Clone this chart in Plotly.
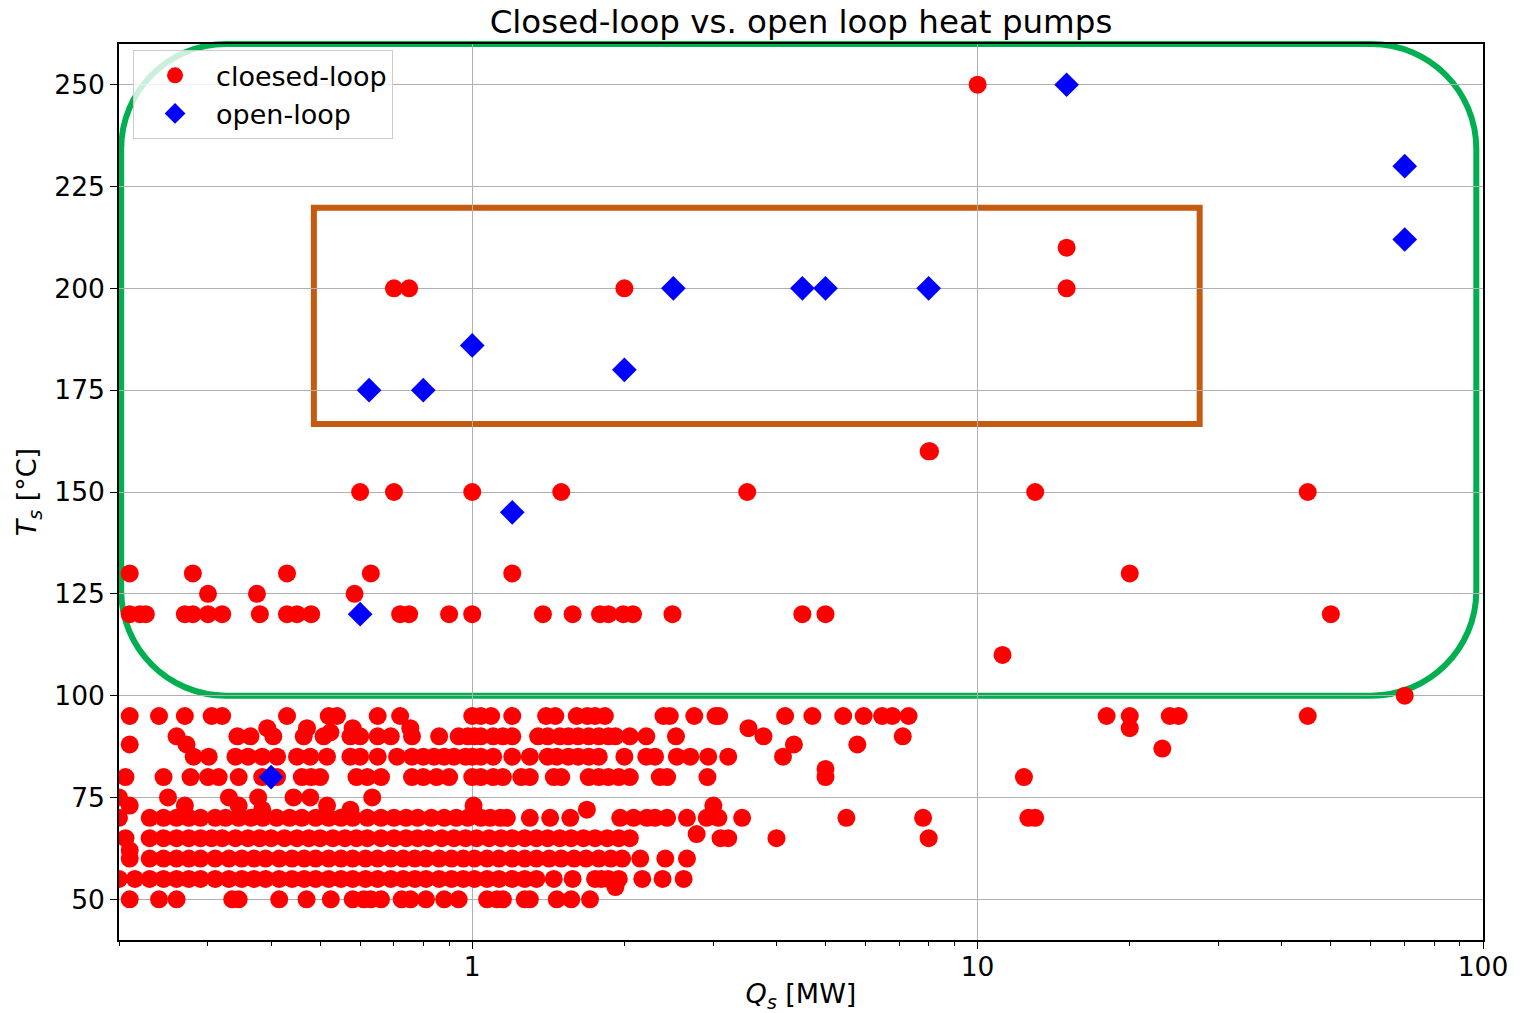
import math
import plotly.graph_objects as go

# ---------------- data: closed-loop (Q_s in MW per temperature level in °C) ----------------
closed_q_250 = [10.0]
closed_q_210 = [15.0]
closed_q_200 = [0.70, 0.75, 2.0, 15.0]
closed_q_160 = [8.0, 8.05]
closed_q_150 = [0.6, 0.7, 1.0, 1.5, 3.5, 13.0, 45.0]
closed_q_130 = [0.21, 0.28, 0.43, 0.63, 1.2, 20.0]
closed_q_125 = [0.30, 0.375, 0.585]
closed_q_120 = [0.21, 0.22, 0.226, 0.27, 0.28, 0.30, 0.32, 0.38, 0.43, 0.45, 0.48, 0.72,
                0.75, 0.90, 1.0, 1.38, 1.58, 1.79, 1.86, 1.99, 2.08, 2.49, 4.5, 5.0, 50.0]
closed_q_110 = [11.2]
closed_q_100 = [70.0]
closed_q_95 = [0.21, 0.24, 0.27, 0.305, 0.32, 0.43, 0.52, 0.54, 0.65, 0.72, 1.0, 1.04, 1.09,
               1.2, 1.4, 1.46, 1.61, 1.69, 1.75, 1.83, 2.39, 2.46, 2.75, 3.03, 3.08, 4.16,
               4.71, 5.42, 5.95, 6.47, 6.78, 7.3, 18.0, 20.0, 24.0, 25.0, 45.0]
closed_q_92 = [0.393, 0.471, 0.58, 0.754, 3.52, 20.0]
closed_q_91 = [0.524]
closed_q_90 = [0.26, 0.343, 0.364, 0.404, 0.464, 0.508, 0.574, 0.60, 0.65, 0.69, 0.76, 0.86,
               0.94, 0.98, 1.01, 1.04, 1.1, 1.15, 1.2, 1.35, 1.41, 1.49, 1.55, 1.62, 1.7,
               1.78, 1.86, 1.92, 2.05, 2.21, 2.53, 3.77, 7.11]
closed_q_88 = [0.21, 0.272, 4.33, 5.78]
closed_q_87 = [23.2]
closed_q_85 = [0.281, 0.301, 0.34, 0.36, 0.384, 0.411, 0.45, 0.478, 0.516, 0.574, 0.6, 0.65,
               0.71, 0.76, 0.8, 0.84, 0.88, 0.92, 0.97, 1.0, 1.04, 1.1, 1.2, 1.3, 1.41, 1.47,
               1.55, 1.62, 1.7, 1.78, 2.0, 2.21, 2.3, 2.54, 2.7, 2.93, 3.21, 4.12]
closed_q_82 = [5.0]
closed_q_80 = [0.206, 0.245, 0.277, 0.30, 0.315, 0.345, 0.384, 0.411, 0.46, 0.48, 0.50, 0.59,
               0.62, 0.66, 0.76, 0.8, 0.85, 0.9, 1.0, 1.04, 1.1, 1.15, 1.25, 1.3, 1.45, 1.5,
               1.7, 1.78, 1.86, 1.95, 2.05, 2.35, 2.43, 2.92, 5.0, 12.35]
closed_q_75 = [0.2, 0.25, 0.33, 0.377, 0.443, 0.478, 0.634]
closed_q_73 = [0.21, 0.27, 0.345, 0.516, 1.006, 3.0]
closed_q_72 = [0.384, 0.574, 1.686]
closed_q_70 = [0.2, 0.23, 0.245, 0.26, 0.275, 0.29, 0.31, 0.325, 0.345, 0.365, 0.385, 0.41,
               0.435, 0.46, 0.49, 0.52, 0.55, 0.58, 0.62, 0.66, 0.7, 0.74, 0.78, 0.83, 0.88,
               0.93, 0.98, 1.04, 1.085, 1.136, 1.171, 1.3, 1.426, 1.563, 1.962, 2.085, 2.216,
               2.30, 2.43, 2.66, 2.91, 3.07, 3.42, 5.5, 7.8, 12.6, 13.0]
closed_q_66 = [2.78]
closed_q_65 = [0.206, 0.23, 0.245, 0.26, 0.275, 0.29, 0.305, 0.32, 0.34, 0.36, 0.38, 0.4,
               0.425, 0.45, 0.475, 0.5, 0.53, 0.56, 0.59, 0.62, 0.66, 0.7, 0.74, 0.78, 0.82,
               0.87, 0.92, 0.97, 1.02, 1.08, 1.14, 1.2, 1.27, 1.34, 1.41, 1.49, 1.57, 1.66,
               1.75, 1.85, 1.95, 2.05, 3.1, 3.21, 4.0, 8.0]
closed_q_62 = [0.21]
closed_q_60 = [0.21, 0.23, 0.245, 0.26, 0.275, 0.29, 0.31, 0.33, 0.35, 0.37, 0.39, 0.415,
               0.44, 0.465, 0.49, 0.52, 0.55, 0.58, 0.615, 0.65, 0.69, 0.73, 0.77, 0.81,
               0.86, 0.91, 0.96, 1.01, 1.07, 1.13, 1.2, 1.27, 1.34, 1.42, 1.5, 1.59, 1.68,
               1.78, 1.88, 1.98, 2.15, 2.41, 2.66]
closed_q_55 = [0.2, 0.215, 0.23, 0.245, 0.26, 0.275, 0.29, 0.31, 0.33, 0.35, 0.37, 0.39,
               0.415, 0.44, 0.465, 0.49, 0.52, 0.55, 0.58, 0.615, 0.65, 0.69, 0.73, 0.77,
               0.81, 0.86, 0.91, 0.96, 1.01, 1.07, 1.13, 1.2, 1.27, 1.34, 1.45, 1.58, 1.75,
               1.8, 1.86, 1.95, 2.17, 2.38, 2.62]
closed_q_53 = [1.92]
closed_q_50 = [0.21, 0.24, 0.26, 0.335, 0.345, 0.415, 0.47, 0.525, 0.58, 0.61, 0.63, 0.66,
               0.725, 0.755, 0.81, 0.88, 0.94, 1.07, 1.12, 1.15, 1.27, 1.3, 1.47, 1.57, 1.71]

closed_rows = [
    (250, closed_q_250), (210, closed_q_210), (200, closed_q_200), (160, closed_q_160),
    (150, closed_q_150), (130, closed_q_130), (125, closed_q_125), (120, closed_q_120),
    (110, closed_q_110), (100, closed_q_100), (95, closed_q_95), (92, closed_q_92),
    (91, closed_q_91), (90, closed_q_90), (88, closed_q_88), (87, closed_q_87),
    (85, closed_q_85), (82, closed_q_82), (80, closed_q_80), (75, closed_q_75),
    (73, closed_q_73), (72, closed_q_72), (70, closed_q_70), (66, closed_q_66),
    (65, closed_q_65), (62, closed_q_62), (60, closed_q_60), (55, closed_q_55),
    (53, closed_q_53), (50, closed_q_50),
]

# ---------------- data: open-loop ----------------
open_q = [0.4, 0.6, 0.625, 0.8, 1.0, 1.2, 2.0, 2.5, 4.5, 5.0, 8.0, 15.0, 70.0, 70.0]
open_t = [80, 120, 175, 175, 186, 145, 180, 200, 200, 200, 200, 250, 230, 212]

# axis settings
q_range = [0.2, 100]
t_range = [40, 260]
t_ticks = [50, 75, 100, 125, 150, 175, 200, 225, 250]
q_ticks = [1, 10, 100]

# highlighted regions (data units)
green_box_q = [0.202, 97.0]
green_box_t = [100, 260]
orange_box_q = [0.486, 27.5]
orange_box_t = [166.7, 219.8]

closed_q, closed_t = [], []
for t, qs in closed_rows:
    closed_q.extend(qs)
    closed_t.extend([t] * len(qs))

W, H = 1521, 1013
ML, MR, MT, MB = 119, 38, 44, 73
PW, PH = W - ML - MR, H - MT - MB

lq0, lq1 = math.log10(q_range[0]), math.log10(q_range[1])


def xp(q):
    return (math.log10(q) - lq0) / (lq1 - lq0)


def yp(t):
    return (t - t_range[0]) / (t_range[1] - t_range[0])


def rounded_path(x0, x1, y0, y1, r_px):
    rx, ry = r_px / PW, r_px / PH
    k = 0.5523
    return (f"M {x0+rx},{y1} L {x1-rx},{y1} "
            f"C {x1-rx+k*rx},{y1} {x1},{y1-ry+k*ry} {x1},{y1-ry} "
            f"L {x1},{y0+ry} "
            f"C {x1},{y0+ry-k*ry} {x1-rx+k*rx},{y0} {x1-rx},{y0} "
            f"L {x0+rx},{y0} "
            f"C {x0+rx-k*rx},{y0} {x0},{y0+ry-k*ry} {x0},{y0+ry} "
            f"L {x0},{y1-ry} "
            f"C {x0},{y1-ry+k*ry} {x0+rx-k*rx},{y1} {x0+rx},{y1} Z")


FONT = "DejaVu Sans"
TICK_SIZE = 26.5
LABEL_SIZE = 27

fig = go.Figure()
fig.add_trace(go.Scatter(
    x=closed_q, y=closed_t, mode="markers", name="cloesed-loop",
    marker=dict(symbol="circle", size=18, color="#ff0000", line=dict(width=0)),
))
fig.add_trace(go.Scatter(
    x=open_q, y=open_t, mode="markers", name="open-loop",
    marker=dict(symbol="diamond", size=19, color="#0000ff", line=dict(width=0)),
))

shapes = [
    dict(type="path", xref="paper", yref="paper", layer="between",
         path=rounded_path(xp(green_box_q[0]), xp(green_box_q[1]),
                           yp(green_box_t[0]), yp(green_box_t[1]), 105),
         line=dict(color="#00b050", width=6)),
    dict(type="rect", xref="paper", yref="paper", layer="between",
         x0=xp(orange_box_q[0]), x1=xp(orange_box_q[1]),
         y0=yp(orange_box_t[0]), y1=yp(orange_box_t[1]),
         line=dict(color="#c55a11", width=6)),
]

minor_vals = [m * 10 ** e for e in (-1, 0, 1) for m in range(2, 10)]

fig.update_layout(
    width=W, height=H,
    margin=dict(l=ML, r=MR, t=MT, b=MB, autoexpand=False),
    paper_bgcolor="white", plot_bgcolor="white",
    font=dict(family=FONT, size=TICK_SIZE, color="black"),
    title=dict(text="Closed-loop vs. open loop heat pumps", x=0.5, xref="paper",
               y=1 - 22 / H, yref="container", xanchor="center", yanchor="middle",
               font=dict(size=32.5, family=FONT, color="black")),
    shapes=shapes,
    showlegend=True,
    legend=dict(x=0.0103, y=0.993, xanchor="left", yanchor="top",
                bgcolor="rgba(255,255,255,0.8)", bordercolor="#cccccc", borderwidth=1,
                font=dict(size=LABEL_SIZE, family=FONT), itemsizing="trace",
                itemwidth=72, tracegroupgap=0),
)

fig.update_xaxes(
    type="log", range=[lq0, lq1],
    tickvals=q_ticks, ticktext=[str(v) for v in q_ticks],
    ticks="outside", ticklen=7, tickwidth=1.2, tickcolor="black",
    ticklabelstandoff=-5,
    showgrid=True, gridcolor="#b0b0b0", gridwidth=1,
    showline=True, linecolor="black", linewidth=1.5, mirror=True,
    zeroline=False,
    minor=dict(tickvals=minor_vals, ticks="outside", ticklen=4, tickcolor="black",
               showgrid=False),
    title=dict(text="<i>Q<sub>s</sub></i> [MW]", standoff=8,
               font=dict(size=LABEL_SIZE, family=FONT)),
    tickfont=dict(size=TICK_SIZE, family=FONT),
    automargin=False,
)
fig.update_yaxes(
    range=t_range, tickvals=t_ticks,
    ticks="outside", ticklen=7, tickwidth=1.2, tickcolor="black",
    showgrid=True, gridcolor="#b0b0b0", gridwidth=1,
    showline=True, linecolor="black", linewidth=1.5, mirror=True,
    zeroline=False,
    title=dict(text="<i>T<sub>s</sub></i> [°C]", standoff=10,
               font=dict(size=LABEL_SIZE, family=FONT)),
    tickfont=dict(size=TICK_SIZE, family=FONT),
    automargin=False,
)

fig.write_html("out.html", config={"displayModeBar": False},
               post_script="document.body.style.margin='0';")
